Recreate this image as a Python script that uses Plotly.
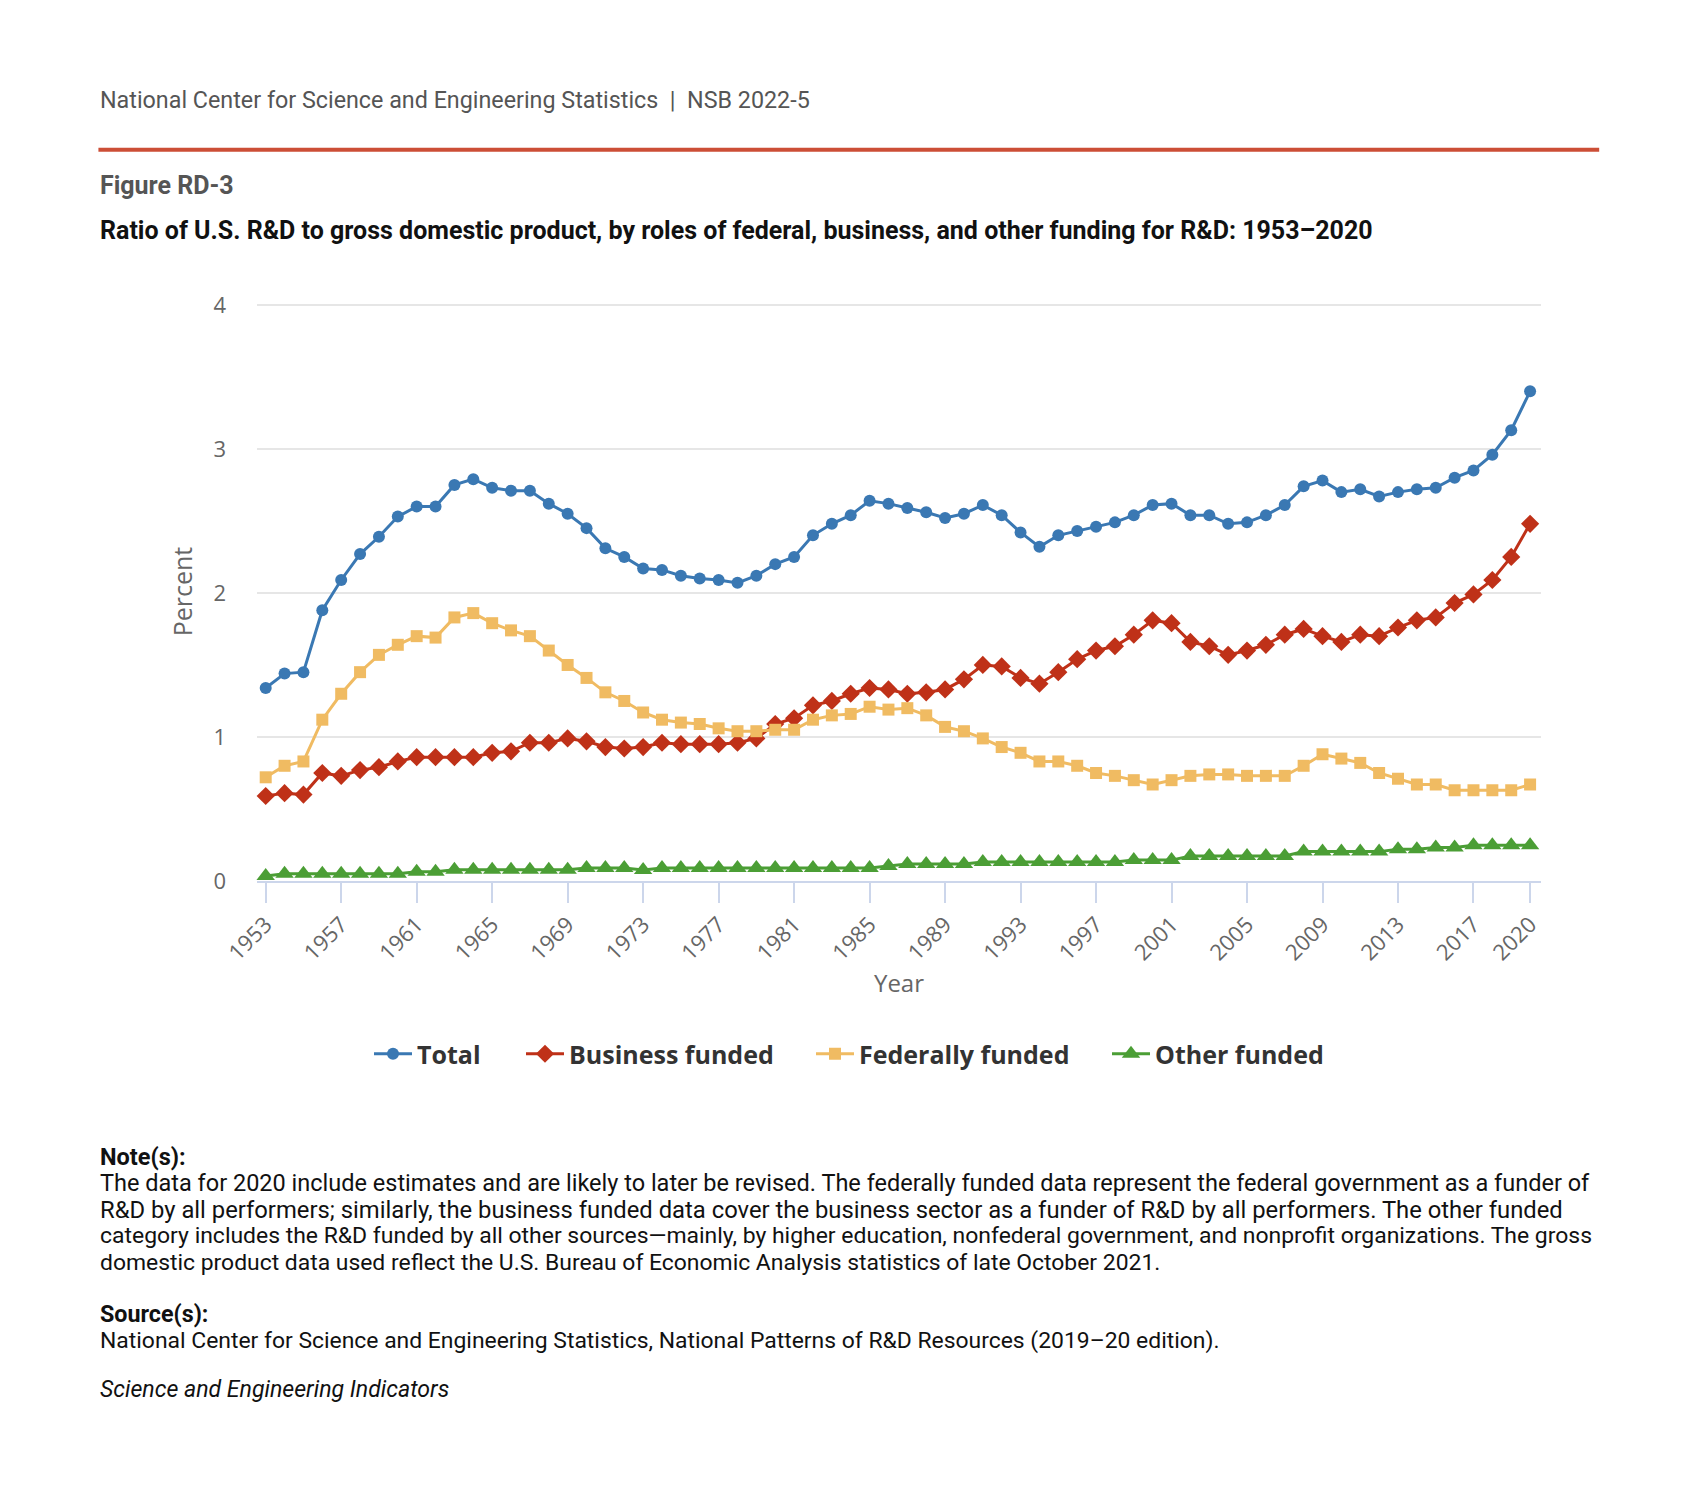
import plotly.graph_objects as go

years = list(range(1953, 2021))

total = [1.34, 1.44, 1.45, 1.88, 2.09, 2.27, 2.39, 2.53, 2.60, 2.60,
         2.75, 2.79, 2.73, 2.71, 2.71, 2.62, 2.55, 2.45, 2.31, 2.25,
         2.17, 2.16, 2.12, 2.10, 2.09, 2.07, 2.12, 2.20, 2.25, 2.40,
         2.48, 2.54, 2.64, 2.62, 2.59, 2.56, 2.52, 2.55, 2.61, 2.54,
         2.42, 2.32, 2.40, 2.43, 2.46, 2.49, 2.54, 2.61, 2.62, 2.54,
         2.54, 2.48, 2.49, 2.54, 2.61, 2.74, 2.78, 2.70, 2.72, 2.67,
         2.70, 2.72, 2.73, 2.80, 2.85, 2.96, 3.13, 3.40]

business = [0.59, 0.61, 0.60, 0.75, 0.73, 0.77, 0.79, 0.83, 0.86, 0.86,
            0.86, 0.86, 0.89, 0.90, 0.96, 0.96, 0.99, 0.97, 0.93, 0.92,
            0.93, 0.96, 0.95, 0.95, 0.95, 0.96, 0.99, 1.09, 1.13, 1.22,
            1.25, 1.30, 1.34, 1.33, 1.30, 1.31, 1.33, 1.40, 1.50, 1.49,
            1.41, 1.37, 1.45, 1.54, 1.60, 1.63, 1.71, 1.81, 1.79, 1.66,
            1.63, 1.57, 1.60, 1.64, 1.71, 1.75, 1.70, 1.66, 1.71, 1.70,
            1.76, 1.81, 1.83, 1.93, 1.99, 2.09, 2.25, 2.48]

federal = [0.72, 0.80, 0.83, 1.12, 1.30, 1.45, 1.57, 1.64, 1.70, 1.69,
           1.83, 1.86, 1.79, 1.74, 1.70, 1.60, 1.50, 1.41, 1.31, 1.25,
           1.17, 1.12, 1.10, 1.09, 1.06, 1.04, 1.04, 1.05, 1.05, 1.12,
           1.15, 1.16, 1.21, 1.19, 1.20, 1.15, 1.07, 1.04, 0.99, 0.93,
           0.89, 0.83, 0.83, 0.80, 0.75, 0.73, 0.70, 0.67, 0.70, 0.73,
           0.74, 0.74, 0.73, 0.73, 0.73, 0.80, 0.88, 0.85, 0.82, 0.75,
           0.71, 0.67, 0.67, 0.63, 0.63, 0.63, 0.63, 0.67]

other = [0.035, 0.05, 0.05, 0.05, 0.05, 0.05, 0.05, 0.05, 0.064, 0.064,
         0.078, 0.078, 0.078, 0.078, 0.078, 0.078, 0.078, 0.091, 0.091, 0.091,
         0.077, 0.091, 0.091, 0.091, 0.091, 0.091, 0.091, 0.091, 0.091, 0.091,
         0.091, 0.091, 0.091, 0.104, 0.118, 0.118, 0.118, 0.118, 0.132, 0.132,
         0.132, 0.132, 0.132, 0.132, 0.132, 0.132, 0.145, 0.145, 0.145, 0.173,
         0.173, 0.173, 0.173, 0.173, 0.173, 0.204, 0.204, 0.204, 0.204, 0.204,
         0.22, 0.22, 0.232, 0.232, 0.248, 0.248, 0.248, 0.248]

tick_years = [1953, 1957, 1961, 1965, 1969, 1973, 1977, 1981, 1985, 1989,
              1993, 1997, 2001, 2005, 2009, 2013, 2017, 2020]
y_ticks = [0, 1, 2, 3, 4]

series_names = ["Total", "Business funded", "Federally funded", "Other funded"]

W, H = 1699, 1509
L, R, T, B = 248.6, 1532.8, 294.3, 872.7


def px(x):
    return (x - L) / (R - L)


def py(y):
    return (B - y) / (B - T)


legend_ids = ["legend", "legend2", "legend3", "legend4"]
legend_left = [361, 513, 803, 1099]

fig = go.Figure()
styles = [
    (total, "#3a78b3", "circle", 12),
    (business, "#bf3118", "diamond", 14),
    (federal, "#f0bb62", "square", 12),
    (other, "#4b9e35", "triangle-up", 16),
]
for name, lid, (vals, col, sym, sz) in zip(series_names, legend_ids, styles):
    fig.add_trace(go.Scatter(
        x=years, y=vals, name=name, mode="lines+markers",
        line=dict(color=col, width=3),
        marker=dict(color=col, symbol=sym, size=sz),
        cliponaxis=False, legend=lid,
    ))

legend_font = dict(family="Open Sans", size=25, color="#333333", weight="bold")
legends = {}
for lid, lx in zip(legend_ids, legend_left):
    legends[lid] = dict(orientation="h", xref="container", yref="container",
                        x=lx / W, xanchor="left", y=1 - 1046 / H, yanchor="middle",
                        font=legend_font, itemwidth=38, bgcolor="rgba(0,0,0,0)",
                        borderwidth=0)

fig.update_layout(
    width=W, height=H,
    margin=dict(l=L, r=W - R, t=T, b=H - B, autoexpand=False),
    paper_bgcolor="white", plot_bgcolor="white",
    font=dict(family="Open Sans", color="#666666"),
    showlegend=True,
    **legends,
    xaxis=dict(
        range=[1952.539, 2020.578], tickmode="array", tickvals=tick_years,
        ticktext=[str(t) for t in tick_years], tickangle=-45,
        tickfont=dict(family="Open Sans", size=22, color="#666666"),
        showgrid=False, zeroline=False,
        showline=True, linecolor="#ccd6eb", linewidth=2,
        ticks="outside", ticklen=20, tickwidth=2, tickcolor="#ccd6eb",
        title=dict(text="Year", font=dict(family="Open Sans", size=24, color="#666666"),
                   standoff=9),
    ),
    yaxis=dict(
        range=[0, 4.02], tickmode="array", tickvals=y_ticks,
        tickfont=dict(family="Open Sans", size=22, color="#666666"),
        showgrid=True, gridcolor="#e6e6e6", gridwidth=2, zeroline=False,
        showline=False, ticks="", ticklabelstandoff=30,
        title=dict(text="Percent", font=dict(family="Open Sans", size=25, color="#666666"),
                   standoff=13),
    ),
)

# header rule
fig.add_shape(type="line", xref="paper", yref="paper",
              x0=px(90), x1=px(1591), y0=py(142.3), y1=py(142.3),
              line=dict(color="#cc4e36", width=4))

texts = [
    (92.4, "National Center for Science and Engineering Statistics&nbsp;&nbsp;|&nbsp;&nbsp;NSB 2022-5", 23.3, "#555555"),
    (178, "<b>Figure RD-3</b>", 25, "#555555"),
    (222.5, "<b>Ratio of U.S. R&D to gross domestic product, by roles of federal, business, and other funding for R&D: 1953–2020</b>", 25, "#111111"),
    (1148, "<b>Note(s):</b>", 23.5, "#111111"),
    (1174, "The data for 2020 include estimates and are likely to later be revised. The federally funded data represent the federal government as a funder of", 23.5, "#111111"),
    (1201, "R&D by all performers; similarly, the business funded data cover the business sector as a funder of R&D by all performers. The other funded", 23.8, "#111111"),
    (1227, "category includes the R&D funded by all other sources—mainly, by higher education, nonfederal government, and nonprofit organizations. The gross", 22.95, "#111111"),
    (1254, "domestic product data used reflect the U.S. Bureau of Economic Analysis statistics of late October 2021.", 22.9, "#111111"),
    (1305, "<b>Source(s):</b>", 23.3, "#111111"),
    (1332, "National Center for Science and Engineering Statistics, National Patterns of R&D Resources (2019–20 edition).", 22.9, "#111111"),
    (1381, "<i>Science and Engineering Indicators</i>", 23.1, "#111111"),
]
for y, t, s, c in texts:
    fig.add_annotation(xref="paper", yref="paper", x=px(90), y=py(y),
                       xanchor="left", yanchor="middle", showarrow=False,
                       text=t, font=dict(family="Roboto", size=s, color=c),
                       align="left")

fig.write_html("out.html")
